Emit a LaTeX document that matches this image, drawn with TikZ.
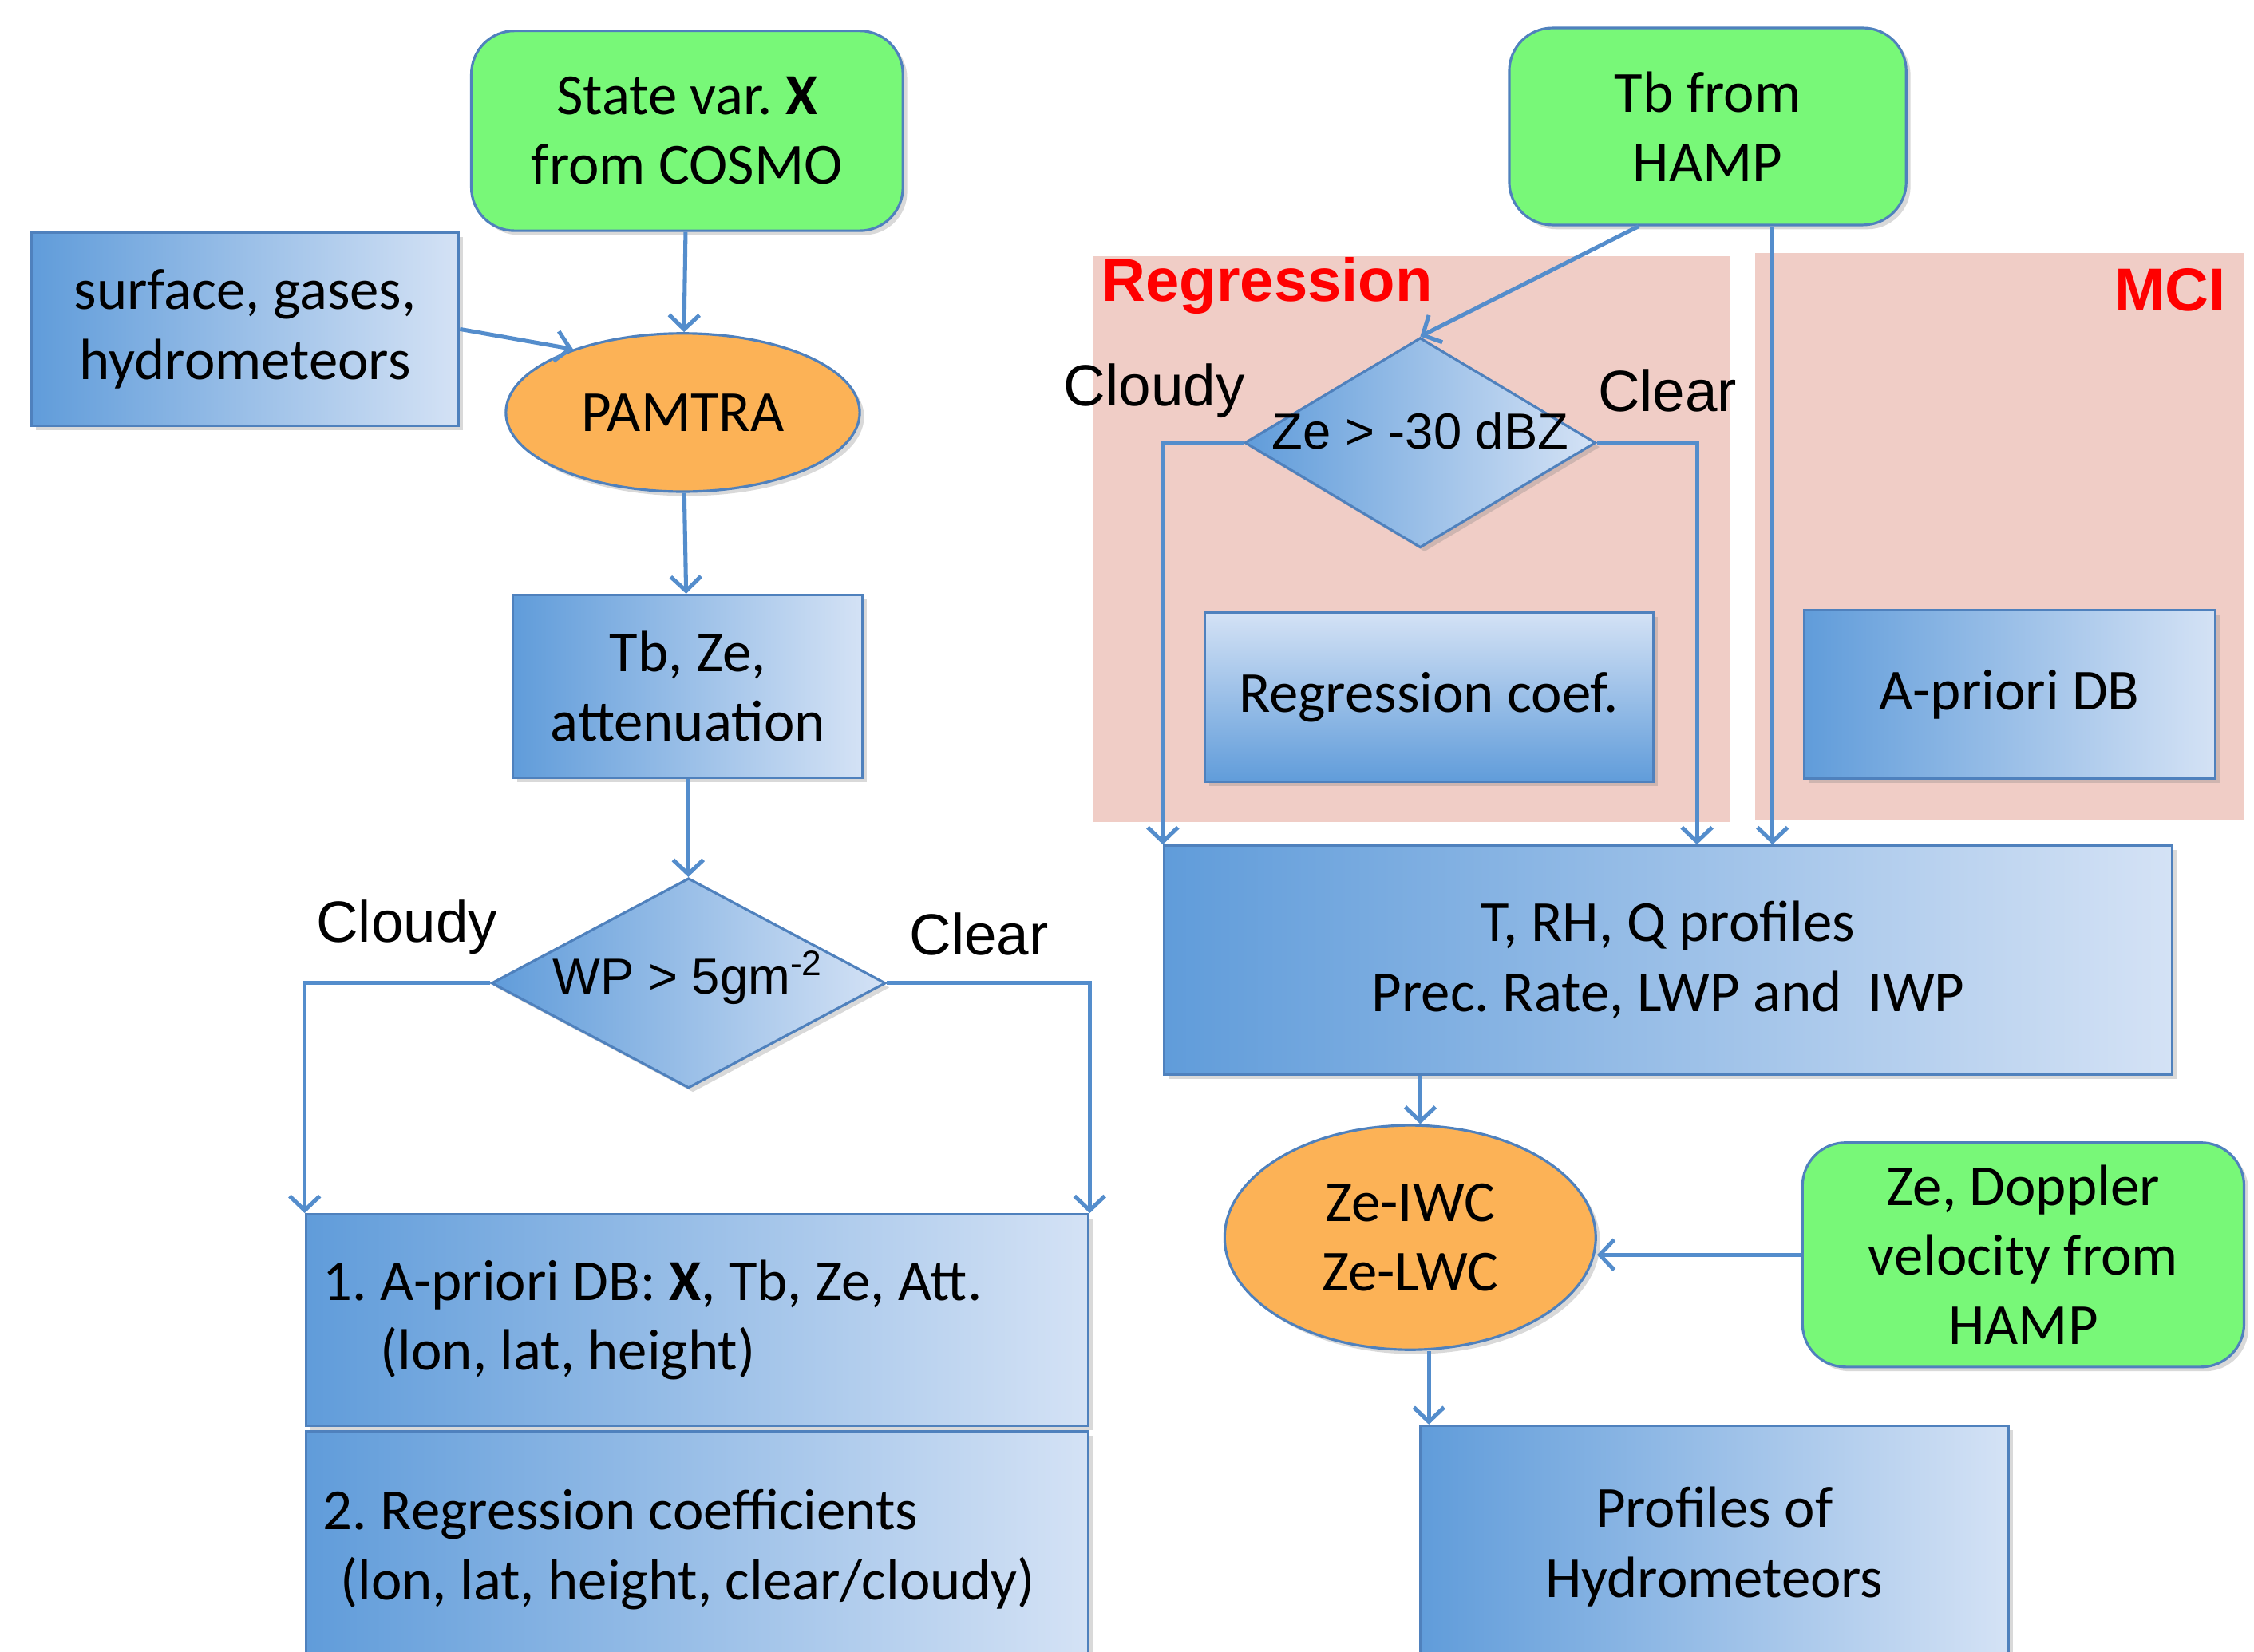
\documentclass[tikz,border=0pt]{standalone}
\usepackage{fontspec}
\setmainfont{Carlito}
\newfontfamily\arialfont{Liberation Sans}
\usetikzlibrary{shapes.geometric, arrows.meta, shadows}
\frenchspacing

\definecolor{boxgreen}{RGB}{120,248,120}
\definecolor{boxorange}{RGB}{252,178,86}
\definecolor{bluedark}{RGB}{96,156,218}
\definecolor{bluelight}{RGB}{212,226,245}
\definecolor{edgeblue}{RGB}{79,129,189}
\definecolor{lineblue}{RGB}{84,141,204}
\definecolor{regpink}{RGB}{240,205,198}

\tikzstyle{shade} = [drop shadow={shadow xshift=0.03cm, shadow yshift=-0.03cm, opacity=0.3}]
\tikzstyle{source} = [rectangle, rounded corners=0.3cm, fill=boxgreen, draw=edgeblue, line width=0.5pt, align=center, font=\fontsize{11.5}{13.8}\selectfont, shade]
\tikzstyle{model} = [ellipse, inner sep=0pt, fill=boxorange, draw=edgeblue, line width=0.5pt, align=center, font=\fontsize{11.5}{13.8}\selectfont, shade]
\tikzstyle{data} = [rectangle, left color=bluedark, right color=bluelight, draw=edgeblue, line width=0.5pt, align=center, font=\fontsize{11.5}{13.8}\selectfont, shade]
\tikzstyle{coefbox} = [data, top color=bluelight, bottom color=bluedark]
\tikzstyle{decision} = [diamond, inner sep=0pt, left color=bluedark, right color=bluelight, draw=edgeblue, line width=0.5pt, shade]
\tikzstyle{branch} = [font=\arialfont\fontsize{11.5}{13.8}\selectfont, inner sep=0pt]
\tikzstyle{condition} = [font=\arialfont\fontsize{10}{12}\selectfont, inner sep=0pt]
\tikzstyle{region label} = [font=\arialfont\bfseries\fontsize{12}{14}\selectfont, text=red, inner sep=0pt]
\tikzstyle{arrow} = [line width=0.8pt, draw=lineblue, -{Straight Barb[length=1mm,width=2.1mm]}]

\begin{document}
\begin{tikzpicture}[x=0.01cm, y=-0.01cm]
\useasboundingbox (0,0) rectangle (1568,1149);

%% REGIONS

\fill [regpink] (760,178) rectangle (1203,572);
\fill [regpink] (1221,176) rectangle (1561,571);
\node (reg_label) [region label, anchor=west] at (766,199) {Regression};
\node (mci_label) [region label, anchor=east] at (1549,202) {MCI};

%% NODES

% simulation side
\node (statevar) [source, minimum width=3cm, minimum height=1.39cm] at (478,91) {State var. \textbf{X}\\from COSMO};
\node (surface) [data, minimum width=2.97cm, minimum height=1.34cm] at (170.5,229) {surface, gases,\\hydrometeors};
\node (pamtra) [model, minimum width=2.46cm, minimum height=1.1cm] at (475,287) {PAMTRA};
\node (tbze) [data, minimum width=2.43cm, minimum height=1.27cm] at (478.5,477.5) {Tb, Ze,\\attenuation};
\node (wp) [decision, minimum width=2.74cm, minimum height=1.46cm, label={[condition, yshift=0.04cm]center:WP > 5gm\textsuperscript{-2}}] at (479,684) {};
\node (cloudy_l) [branch] at (283,645) {Cloudy};
\node (clear_l) [branch] at (681,650) {Clear};
\node (db) [data, minimum width=5.44cm, minimum height=1.47cm, text width=5.2cm, align=flush left] at (485,918.5) {1. A-priori DB: \textbf{X}, Tb, Ze, Att.\\\phantom{1. }(lon, lat, height)};
\node (coefs) [data, minimum width=5.44cm, minimum height=1.64cm, text width=5.2cm, align=flush left] at (485,1078) {2. Regression coefficients\\\hspace{0.12cm}(lon, lat, height, clear/cloudy)};

% retrieval side
\node (tbhamp) [source, minimum width=2.76cm, minimum height=1.37cm] at (1188,88) {Tb from\\HAMP};
\node (ze) [decision, minimum width=2.44cm, minimum height=1.46cm, label={[condition, yshift=0.08cm]center:Ze > -30 dBZ}] at (988,308) {};
\node (cloudy_r) [branch] at (803,272) {Cloudy};
\node (clear_r) [branch] at (1160,272) {Clear};
\node (regcoef) [coefbox, minimum width=3.12cm, minimum height=1.18cm] at (994,485) {Regression coef.};
\node (apriori) [data, minimum width=2.86cm, minimum height=1.17cm] at (1398,483) {A-priori DB};
\node (profiles) [data, minimum width=7.01cm, minimum height=1.59cm] at (1160.5,668) {T, RH, Q profiles\\Prec. Rate, LWP and\ \ IWP};
\node (zeiwc) [model, minimum width=2.58cm, minimum height=1.56cm] at (981,861) {Ze-IWC\\Ze-LWC};
\node (doppler) [source, minimum width=3.07cm, minimum height=1.56cm] at (1407.5,873) {Ze, Doppler\\velocity from\\HAMP};
\node (hydro) [data, minimum width=4.09cm, minimum height=1.68cm] at (1192.5,1076) {Profiles of\\Hydrometeors};

%% ARROWS

\draw [arrow] (statevar) -- (pamtra);
\draw [arrow] (surface.east) -- (pamtra.150);
\draw [arrow] (pamtra) -- (tbze);
\draw [arrow] (tbze) -- (wp);
\draw [arrow] (wp.west) -| (db.north west);
\draw [arrow] (wp.east) -| (db.north east);

\draw [arrow] ([xshift=-0.48cm]tbhamp.south) -- (ze.north);
\draw [arrow] ([xshift=0.45cm]tbhamp.south) -- ([xshift=0.45cm]tbhamp.south |- profiles.north);
\draw [arrow] (ze.west) -| (profiles.north west);
\draw [arrow] (ze.east) -| ([xshift=0.2cm]profiles.north);
\draw [arrow] ([xshift=0.07cm]zeiwc.north |- profiles.south) -- ([xshift=0.07cm]zeiwc.north);
\draw [arrow] (doppler.west) -- (zeiwc.east |- doppler.west);
\draw [arrow] ([xshift=0.07cm]hydro.north west |- zeiwc.south) -- ([xshift=0.07cm]hydro.north west);

\end{tikzpicture}
\end{document}
